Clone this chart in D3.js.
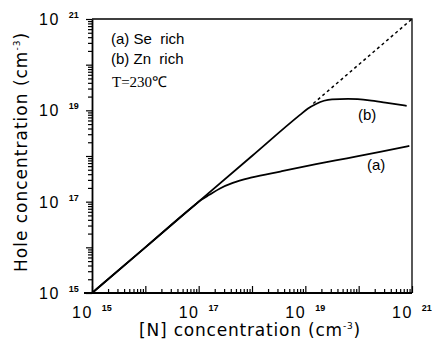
<!DOCTYPE html>
<html>
<head>
<meta charset="utf-8">
<script src="https://cdn.jsdelivr.net/npm/d3@7"></script>
<style>
  body { margin: 0; background: #fff; }
  text { fill: #000; }
</style>
</head>
<body>
<div id="chart"></div>
<script>
'use strict';

// decade exponents that get a "10^n" label
let xLabelExps = [15, 17, 19, 21];
let yLabelExps = [15, 17, 19, 21];

// curve (a) Se rich : [log10 N, log10 p]
let curveA = [
    [15, 15], [16, 16], [16.9, 16.9], [17.05, 17.04], [17.2, 17.15], [17.4, 17.29],
    [17.64, 17.41], [18.0, 17.53], [18.53, 17.66], [19.2, 17.82], [19.78, 17.95],
    [20.4, 18.09], [20.95, 18.22]
];
// curve (b) Zn rich
let curveB = [
    [15, 15], [16, 16], [17, 17], [18, 18], [18.9, 18.9], [19.05, 19.04],
    [19.2, 19.14], [19.35, 19.21], [19.5, 19.24], [19.8, 19.25], [20.2, 19.22],
    [20.5, 19.17], [20.9, 19.10]
];
// p = N, dotted beyond the knee
let dottedLine = [[19.15, 19.15], [21, 21]];

let legendLines = ['(a) Se\u00a0 rich', '(b) Zn\u00a0 rich'];
let tempLabel = 'T=230\u2103';

let sans = '"Liberation Sans", Arial, sans-serif';
let wide = '"DejaVu Sans", Verdana, sans-serif';
let serif = '"Liberation Serif", "Times New Roman", serif';

let width = 433,
    height = 347,
    margin = { top: 19, right: 21, bottom: 54, left: 92 };

let svg = d3.select('#chart').append('svg')
    .attr('width', width)
    .attr('height', height);

let x = d3.scaleLog().domain([1e15, 1e21]).range([margin.left, width - margin.right]);
let y = d3.scaleLog().domain([1e15, 1e21]).range([height - margin.bottom, margin.top]);

let x0 = x.range()[0], x1 = x.range()[1];
let y0 = y.range()[0], y1 = y.range()[1];

// frame (top and right)
svg.append('path')
    .attr('d', 'M' + x0 + ',' + y1 + 'H' + x1 + 'V' + y0)
    .attr('fill', 'none')
    .attr('stroke', '#000')
    .attr('stroke-width', 1.3);

// axes
let xAxis = d3.axisBottom(x).tickSizeOuter(0).tickSizeInner(-4).tickFormat('');
let yAxis = d3.axisLeft(y).tickSizeOuter(0).tickSizeInner(4).tickFormat('');

let gX = svg.append('g')
    .attr('transform', 'translate(0,' + y0 + ')')
    .call(xAxis);
let gY = svg.append('g')
    .attr('transform', 'translate(' + x0 + ',0)')
    .call(yAxis);

function isDecade(d) {
    let e = Math.log10(d);
    return Math.abs(e - Math.round(e)) < 1e-6;
}

gX.selectAll('.tick line')
    .attr('y2', function(d) { return isDecade(d) ? -7 : -4; });
gY.selectAll('.tick line')
    .attr('x2', function(d) { return isDecade(d) ? -6 : -4; });

[gX, gY].forEach(function(g) {
    g.select('.domain').attr('stroke-width', 1.8);
    g.selectAll('.tick line').attr('stroke-width', 1.2);
});
// bottom line runs a little past the corner
gX.select('.domain').attr('d', 'M' + (x0 - 8) + ',0H' + x1);

// tick labels
function powerLabel(sel, exp) {
    sel.style('font-family', sans);
    sel.append('tspan').text('10').attr('font-size', 16).attr('letter-spacing', 1.5);
    sel.append('tspan').text(exp)
        .attr('font-size', 9)
        .attr('font-weight', 'bold')
        .attr('dx', 9)
        .attr('dy', -7);
}

xLabelExps.forEach(function(e) {
    let t = svg.append('text')
        .attr('x', x(Math.pow(10, e)) - 20)
        .attr('y', y0 + 25);
    powerLabel(t, e);
});

yLabelExps.forEach(function(e) {
    let t = svg.append('text')
        .attr('x', 39)
        .attr('y', y(Math.pow(10, e)) + 6);
    powerLabel(t, e);
});

// axis titles
let xt = svg.append('text')
    .attr('x', 250)
    .attr('y', 336)
    .attr('text-anchor', 'middle')
    .attr('font-size', 17)
    .attr('letter-spacing', 0.8)
    .style('font-family', wide);
xt.append('tspan').text('[N] concentration (cm');
xt.append('tspan').text('-3').attr('font-size', 9).attr('dy', -7);
xt.append('tspan').text(')').attr('dy', 7);

let yt = svg.append('text')
    .attr('transform', 'translate(27,152) rotate(-90)')
    .attr('text-anchor', 'middle')
    .attr('font-size', 17)
    .attr('letter-spacing', 1)
    .style('font-family', wide);
yt.append('tspan').text('Hole concentration (cm');
yt.append('tspan').text('-3').attr('font-size', 9).attr('dy', -7);
yt.append('tspan').text(')').attr('dy', 7);

// curves
let line = d3.line()
    .x(function(d) { return x(Math.pow(10, d[0])); })
    .y(function(d) { return y(Math.pow(10, d[1])); })
    .curve(d3.curveMonotoneX);

svg.append('path')
    .datum(dottedLine)
    .attr('d', line)
    .attr('fill', 'none')
    .attr('stroke', '#000')
    .attr('stroke-width', 1.5)
    .attr('stroke-dasharray', '3,3');

[curveA, curveB].forEach(function(c) {
    svg.append('path')
        .datum(c)
        .attr('d', line)
        .attr('fill', 'none')
        .attr('stroke', '#000')
        .attr('stroke-width', 1.8);
});

// curve labels
svg.append('text').attr('x', 358).attr('y', 120).attr('font-size', 15)
    .style('font-family', sans).text('(b)');
svg.append('text').attr('x', 367).attr('y', 170).attr('font-size', 15)
    .style('font-family', sans).text('(a)');

// legend
legendLines.forEach(function(s, i) {
    svg.append('text')
        .attr('x', 111)
        .attr('y', 44 + i * 20)
        .attr('font-size', 15)
        .style('font-family', sans)
        .text(s);
});
svg.append('text')
    .attr('x', 112)
    .attr('y', 87)
    .attr('font-size', 15)
    .style('font-family', serif)
    .text(tempLabel);
</script>
</body>
</html>
